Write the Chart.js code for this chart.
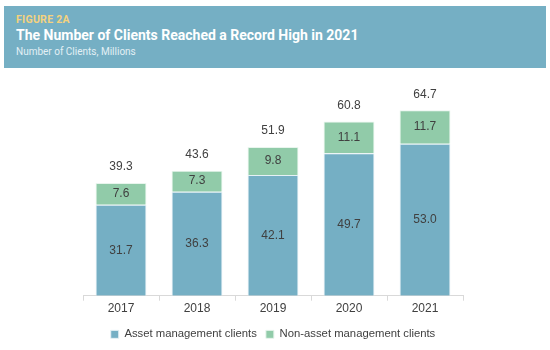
<!DOCTYPE html>
<html lang="en">
<head>
    <meta charset="UTF-8">
    <title>Figure 2A</title>
    <script src="https://cdn.jsdelivr.net/npm/chart.js"></script>
    <style>
        body { margin: 0; background: #fff; width: 550px; height: 350px; overflow: hidden; }
        .banner {
            position: absolute; left: 4px; top: 6px; width: 542px; height: 62px;
            background: #75afc4; font-family: Roboto, Arial, sans-serif;
        }
        .banner .fig { position: absolute; left: 12px; top: 7px; font-size: 10.5px; font-weight: bold; letter-spacing: 0.3px; color: #f4d27e; }
        .banner .title { position: absolute; left: 12px; top: 21px; font-size: 14px; font-weight: bold; color: #fff; }
        .banner .sub { position: absolute; left: 12px; top: 40px; font-size: 10px; color: #e3f0f5; }
        .wrap { position: absolute; left: 0; top: 75px; width: 550px; height: 275px; }
    </style>
</head>
<body>
    <div class="banner">
        <div class="fig">FIGURE 2A</div>
        <div class="title">The Number of Clients Reached a Record High in 2021</div>
        <div class="sub">Number of Clients, Millions</div>
    </div>
    <div class="wrap"><canvas id="chart"></canvas></div>
    <script>
        const years = ['2017', '2018', '2019', '2020', '2021'];
        const assetClients = [31.7, 36.3, 42.1, 49.7, 53.0];
        const nonAssetClients = [7.6, 7.3, 9.8, 11.1, 11.7];
        const totals = [39.3, 43.6, 51.9, 60.8, 64.7];

        // labels inside segments and totals above each stack
        const valueLabels = {
            id: 'valueLabels',
            afterDatasetsDraw(chart) {
                const ctx = chart.ctx;
                ctx.save();
                ctx.font = '12px "Liberation Sans", Arial, sans-serif';
                ctx.fillStyle = '#404040';
                ctx.textAlign = 'center';
                ctx.textBaseline = 'middle';
                chart.data.datasets.forEach((ds, i) => {
                    chart.getDatasetMeta(i).data.forEach((bar, j) => {
                        ctx.fillText(ds.data[j].toFixed(1), bar.x, (bar.y + bar.base) / 2);
                    });
                });
                const top = chart.getDatasetMeta(1).data;
                top.forEach((bar, j) => {
                    ctx.fillText(totals[j].toFixed(1), bar.x, bar.y - 16);
                });
                ctx.restore();
            }
        };

        new Chart(document.getElementById('chart'), {
            type: 'bar',
            data: {
                labels: years,
                datasets: [{
                    label: 'Asset management clients',
                    data: assetClients,
                    backgroundColor: '#75afc4',
                    borderColor: '#e6f1f5',
                    borderWidth: 1
                }, {
                    label: 'Non-asset management clients',
                    data: nonAssetClients,
                    backgroundColor: '#91cba9',
                    borderColor: '#e8f5ed',
                    borderWidth: 1
                }]
            },
            options: {
                responsive: true,
                maintainAspectRatio: false,
                animation: false,
                categoryPercentage: 1,
                barPercentage: 0.67,
                layout: { padding: { left: 83, right: 87, top: 10, bottom: 0 } },
                scales: {
                    x: {
                        stacked: true,
                        afterFit(scale) { scale.height = 24; },
                        grid: { drawOnChartArea: false, drawTicks: true, tickLength: 5, color: '#d9d9d9' },
                        border: { display: true, color: '#d9d9d9' },
                        ticks: { color: '#404040', font: { size: 12, family: '"Liberation Sans", Arial, sans-serif' }, padding: 1 }
                    },
                    y: { stacked: true, display: false, min: 0, max: 73.5 }
                },
                plugins: {
                    legend: {
                        position: 'bottom',
                        labels: {
                            boxWidth: 8, boxHeight: 8, padding: 9,
                            color: '#404040',
                            font: { size: 11.3, family: '"Liberation Sans", Arial, sans-serif' }
                        }
                    },
                    tooltip: { enabled: false }
                }
            },
            plugins: [valueLabels]
        });
    </script>
</body>
</html>
